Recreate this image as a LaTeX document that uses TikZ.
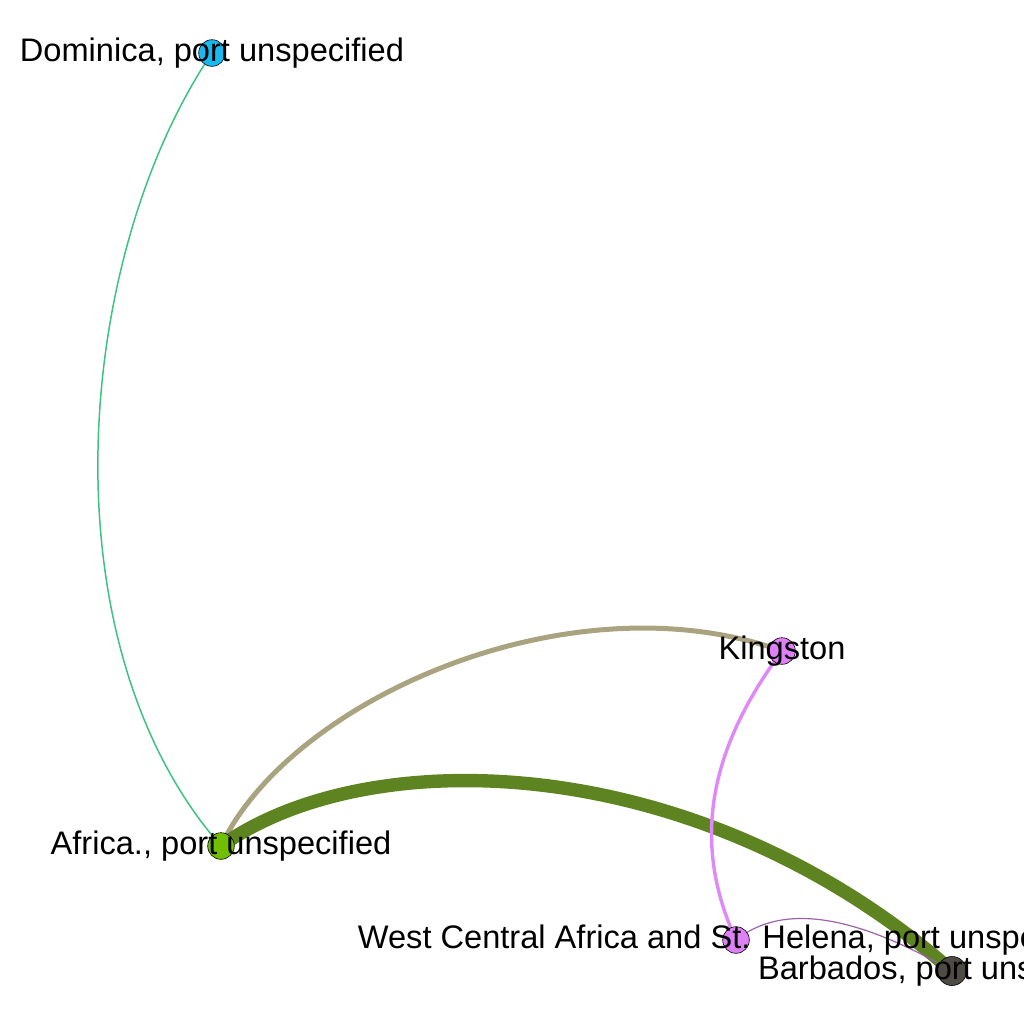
\documentclass[tikz,border=0pt]{standalone}
\usepackage{fontspec}
\setmainfont{Liberation Sans}
\usetikzlibrary{backgrounds}
\definecolor{dominicablue}{HTML}{19B8F0}
\definecolor{africagreen}{HTML}{70BF00}
\definecolor{kingstonviolet}{HTML}{DE80F6}
\definecolor{barbadosgray}{HTML}{4E4A44}
\definecolor{routemint}{HTML}{3CC382}
\definecolor{routetan}{HTML}{A9A37F}
\definecolor{routeolive}{HTML}{5E8321}
\definecolor{routepink}{HTML}{DF88FA}
\definecolor{routeplum}{HTML}{9B63A8}

\begin{document}
\begin{tikzpicture}[
    x=0.5pt, y=-0.5pt,
    every node/.style={font=\fontsize{16.3}{19}\selectfont},
    port/.style={circle, draw=black, line width=0.3pt, fill=#1, minimum size=13.3pt, inner sep=0pt},
    route/.style={draw=#1, line cap=round}
]
    \useasboundingbox (0,0) rectangle (1024,1024);

    % Ports
    \node[port=dominicablue, label=center:{Dominica, port unspecified}] (dom) at (212,53) {};
    \node[port=africagreen, label=center:{Africa., port unspecified}] (afr) at (221,846) {};
    \node[port=kingstonviolet, label=center:{Kingston}] (kin) at (782,651) {};
    \node[port=kingstonviolet, label=center:{West Central Africa and St. Helena, port unspecified}] (wca) at (736,940) {};
    \node[port=barbadosgray, minimum size=14.5pt, label=center:{Barbados, port unspecified}] (bar) at (952,971) {};

    % Routes, drawn behind the ports
    \begin{scope}[on background layer]
        \draw[route=routemint, line width=0.75pt] (dom.center) .. controls (74,257) and (43,643) .. (afr.center);
        \draw[route=routetan, line width=2.5pt] (afr.center) .. controls (290,700) and (570,575) .. (kin.center);
        \draw[route=routeolive, line width=6.7pt] (afr.center) .. controls (370,740) and (700,750) .. (bar.center);
        \draw[route=routepink, line width=1.7pt] (kin.center) .. controls (704,756) and (694,848) .. (wca.center);
        \draw[route=routeplum, line width=0.6pt] (wca.center) .. controls (782,903) and (854,914) .. (bar.center);
    \end{scope}
\end{tikzpicture}
\end{document}
